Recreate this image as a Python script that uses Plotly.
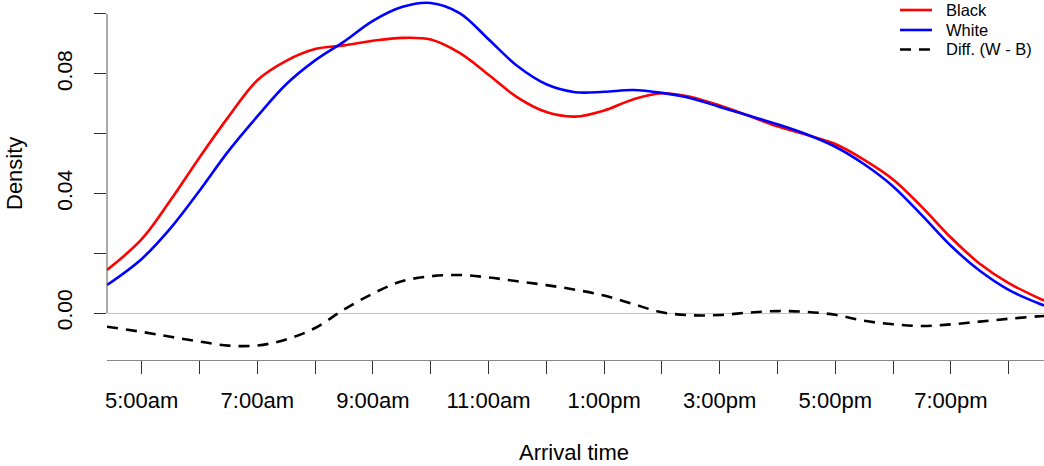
import plotly.graph_objects as go

# ---- data ----
hours = [4.4, 5.0, 5.5, 6.0, 6.5, 7.0, 7.5, 8.0, 8.5, 9.0, 9.5, 10.0, 10.5, 11.0,
         11.5, 12.0, 12.5, 13.0, 13.5, 14.0, 14.5, 15.0, 15.5, 16.0, 16.5, 17.0,
         17.5, 18.0, 18.5, 19.0, 19.5, 20.0, 20.5, 20.611]

black_density = [0.01438, 0.02468, 0.03776, 0.05201, 0.06559, 0.07783, 0.08435, 0.08829,
                 0.08950, 0.09104, 0.09201, 0.09144, 0.08696, 0.07970, 0.07211, 0.06719,
                 0.06569, 0.06773, 0.07144, 0.07348, 0.07224, 0.06940, 0.06599, 0.06241,
                 0.05960, 0.05652, 0.05124, 0.04468, 0.03542, 0.02525, 0.01645, 0.00997,
                 0.00515, 0.00418]

white_density = [0.00936, 0.01809, 0.02839, 0.04090, 0.05415, 0.06575, 0.07649, 0.08448,
                 0.09074, 0.09769, 0.10231, 0.10368, 0.10030, 0.09157, 0.08258, 0.07649,
                 0.07385, 0.07398, 0.07458, 0.07361, 0.07184, 0.06893, 0.06602, 0.06311,
                 0.05977, 0.05559, 0.04973, 0.04234, 0.03264, 0.02247, 0.01411, 0.00773,
                 0.00334, 0.00254]

diff_density = [-0.00458, -0.00632, -0.00796, -0.00953, -0.01090, -0.01087, -0.00886,
                -0.00502, 0.00114, 0.00649, 0.01060, 0.01227, 0.01271, 0.01187, 0.01060,
                0.00933, 0.00779, 0.00585, 0.00301, 0.00023, -0.00074, -0.00067, 0.00013,
                0.00064, 0.00037, -0.00060, -0.00261, -0.00378, -0.00435, -0.00381,
                -0.00288, -0.00194, -0.00114, -0.00100]

x_tick_vals = list(range(5, 21))
x_tick_text = ["5:00am", "", "7:00am", "", "9:00am", "", "11:00am", "", "1:00pm", "",
               "3:00pm", "", "5:00pm", "", "7:00pm", ""]
y_tick_vals = [0.0, 0.02, 0.04, 0.06, 0.08, 0.10]
y_tick_text = ["0.00", "", "0.04", "", "0.08", ""]

series_names = ["Black", "White", "Diff. (W - B)"]
series_colors = ["#ff0000", "#0000ff", "#000000"]
series_dash = ["solid", "solid", "11px,8px"]

FONT = "Liberation Sans, Arial, Helvetica, sans-serif"
W, H = 1044, 466
L, R, T, B = 107, 0, 0, 106
PW, PH = W - L - R, H - T - B

def px_x(p):
    return (p - L) / PW

def px_y(p):
    return (PH - (p - T)) / PH

fig = go.Figure()
for name, vals, col, dash in zip(series_names, [black_density, white_density, diff_density],
                                 series_colors, series_dash):
    fig.add_trace(go.Scatter(x=hours, y=vals, mode="lines", name=name,
                             line=dict(color=col, width=2.6, dash=dash, shape="spline",
                                       smoothing=1.0),
                             showlegend=False))

shapes = [
    # y axis spine from 0 to 0.10
    dict(type="line", xref="paper", yref="y", x0=0, x1=0, y0=0, y1=0.10,
         line=dict(color="#555555", width=1)),
]
annotations = []
# manual legend (R-style)
leg_rows = [10, 30, 49.5]
for name, col, dash, ry in zip(series_names, series_colors, series_dash, leg_rows):
    shapes.append(dict(type="line", xref="paper", yref="paper",
                       x0=px_x(900), x1=px_x(932), y0=px_y(ry), y1=px_y(ry),
                       line=dict(color=col, width=2.6, dash=dash)))
    annotations.append(dict(text=name, xref="paper", yref="paper", x=px_x(944),
                            y=px_y(ry), xanchor="left", yanchor="middle",
                            showarrow=False, font=dict(size=16.5, color="black", family=FONT)))
annotations.append(dict(text="Arrival time", xref="paper", yref="paper", x=px_x(574),
                        y=px_y(452), xanchor="center", yanchor="middle", showarrow=False,
                        font=dict(size=22, color="black", family=FONT)))
annotations.append(dict(text="Density", xref="paper", yref="paper", x=px_x(15),
                        y=px_y(174), xanchor="center", yanchor="middle", showarrow=False,
                        textangle=-90, font=dict(size=22, color="black", family=FONT)))

fig.update_layout(
    width=W, height=H,
    margin=dict(l=L, r=R, t=T, b=B, pad=0),
    paper_bgcolor="white", plot_bgcolor="white",
    font=dict(family=FONT, color="black"),
    shapes=shapes, annotations=annotations,
    xaxis=dict(range=[4.3997, 20.611], tickmode="array", tickvals=x_tick_vals,
               ticktext=x_tick_text, ticks="outside", ticklen=13, tickwidth=1,
               tickcolor="#333333", showgrid=False, zeroline=False, showline=True,
               linecolor="#888888", linewidth=1, tickfont=dict(size=22, family=FONT),
               ticklabelstandoff=8),
    yaxis=dict(range=[-0.01572, 0.10468], tickmode="array", tickvals=y_tick_vals,
               ticktext=y_tick_text, ticks="outside", ticklen=12, tickwidth=1,
               tickcolor="#333333", showgrid=False, zeroline=True,
               zerolinecolor="#c4c4c4", zerolinewidth=1, showline=False,
               tickangle=-90, tickfont=dict(size=21, family=FONT), ticklabelstandoff=14),
)

fig.write_html("out.html")
